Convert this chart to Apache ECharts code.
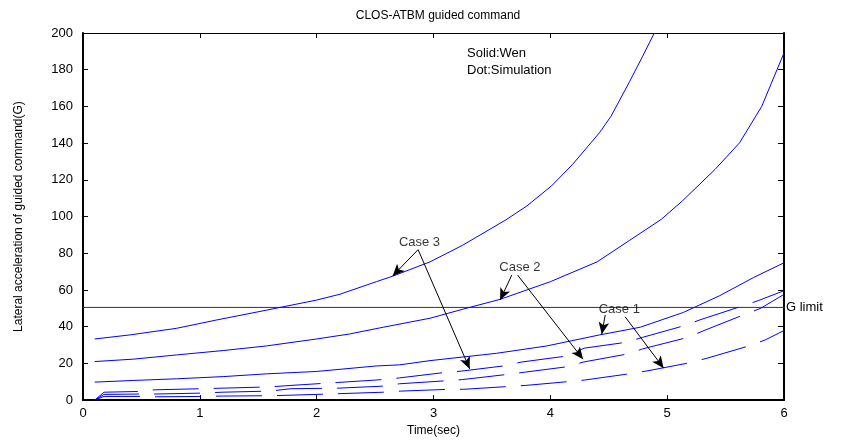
<!DOCTYPE html>
<html>
<head>
<meta charset="utf-8">
<script src="https://cdn.jsdelivr.net/npm/echarts@6/dist/echarts.min.js"></script>
<style>
html,body{margin:0;padding:0;background:#fff;}
#chart{width:860px;height:442px;}
</style>
</head>
<body>
<div id="chart"></div>
<script>
// ---- Data ----
var xTicks = [0, 1, 2, 3, 4, 5, 6];
var yTicks = [0, 20, 40, 60, 80, 100, 120, 140, 160, 180, 200];

// Solid: Wen (analytic) curves
var wenCase3 = [[0.1,33.3],[0.4,35.5],[0.8,39.1],[1.14,43.6],[1.57,49.0],[2.0,54.5],[2.2,57.7],[2.51,64.5],[2.65,67.5],[2.97,75.3],[3.25,84.4],[3.62,98.2],[3.8,105.8],[4.01,116.7],[4.19,128.4],[4.42,145.6],[4.52,154.7],[4.68,173.7],[4.79,187.3],[4.89,200]];
var wenCase2 = [[0.1,21.0],[0.43,22.3],[0.8,24.6],[1.2,27.0],[1.57,29.5],[2.0,33.3],[2.28,36.0],[2.57,39.7],[2.97,44.6],[3.25,49.5],[3.57,54.9],[4.0,64.5],[4.4,75.3],[4.68,87.1],[4.95,98.5],[5.13,108.5],[5.41,125.7],[5.62,140.2],[5.81,160.1],[5.94,180.0],[6.0,189.1]];
var wenCase1 = [[0.1,9.8],[0.43,10.7],[0.8,11.6],[1.2,12.8],[1.57,14.3],[2.0,15.6],[2.51,18.6],[2.71,19.2],[2.97,21.5],[3.54,25.5],[3.97,29.5],[4.42,35.5],[4.77,39.7],[5.14,47.8],[5.45,56.9],[5.74,66.8],[6.0,74.8]];

// Dot: Simulation curves
var simCase3 = [[0.1,0],[0.18,4.3],[0.48,4.7],[0.61,5.6],[1.01,6.2],[1.19,6.5],[1.6,7.2],[1.78,8.0],[2.18,9.6],[2.57,11.2],[2.71,12.1],[3.09,15.0],[3.24,15.8],[3.61,18.7],[3.75,20.7],[4.14,24.0],[4.29,28.3],[4.65,31.5],[4.79,34.2],[5.15,40.6],[5.28,43.7],[5.65,51.4],[5.78,54.2],[6.0,59.6]];
var simCase2 = [[0.1,0],[0.18,3.1],[0.48,3.3],[0.61,3.3],[1.01,3.8],[1.19,4.3],[1.6,4.9],[1.78,6.2],[2.18,6.5],[2.57,7.6],[2.71,8.9],[3.1,10.5],[3.25,11.2],[3.62,13.9],[3.78,15.2],[4.16,18.3],[4.28,20.7],[4.65,25.0],[4.79,27.9],[5.18,34.2],[5.3,37.5],[5.66,46.6],[5.8,50.0],[6.0,57.6]];
var simCase1 = [[0.1,0],[0.18,2.0],[0.48,2.0],[0.63,1.8],[1.01,2.0],[1.2,2.2],[1.6,2.4],[1.79,2.7],[2.19,3.5],[2.57,4.3],[2.72,4.9],[3.1,5.8],[3.26,5.9],[3.64,7.4],[3.79,8.0],[4.16,10.1],[4.29,10.9],[4.65,14.1],[4.82,15.8],[5.19,20.3],[5.34,22.8],[5.71,29.7],[5.84,32.8],[6.0,37.9]];

var gLimitValue = 50.5;
var caseNames = ['Case 3', 'Case 2', 'Case 1'];

// ---- Chart ----
var chart = echarts.init(document.getElementById('chart'), null, {renderer: 'canvas'});
var FONT = 'Liberation Sans, Arial, sans-serif';
var BLUE = '#0000ff';

function curve(name, data, dashed) {
  return {
    name: name, type: 'line', data: data, xAxisIndex: 0, yAxisIndex: 0,
    showSymbol: false, symbol: 'none', smooth: false,
    lineStyle: {color: BLUE, width: 1, type: dashed ? [46, 15] : 'solid'},
    z: 3
  };
}

var option = {
  animation: false,
  backgroundColor: '#fff',
  textStyle: {fontFamily: FONT},
  title: {
    text: 'CLOS-ATBM guided command',
    left: 433, top: 5, textAlign: 'center',
    textStyle: {fontSize: 12, fontWeight: 'normal', color: '#000', fontFamily: FONT}
  },
  grid: {left: 83, right: 76, top: 33, bottom: 41, containLabel: false},
  xAxis: [{
    type: 'value', min: xTicks[0], max: xTicks[xTicks.length - 1], interval: 1,
    name: 'Time(sec)', nameLocation: 'middle', nameGap: 23,
    nameTextStyle: {fontSize: 12, color: '#000', fontFamily: FONT},
    axisLine: {show: true, onZero: false, lineStyle: {color: '#000', width: 2}},
    axisTick: {show: true, inside: true, length: 5, lineStyle: {color: '#000'}},
    axisLabel: {color: '#000', fontSize: 13, margin: 7, fontFamily: FONT},
    splitLine: {show: false}
  }, {
    type: 'value', position: 'top', min: xTicks[0], max: xTicks[xTicks.length - 1], interval: 1,
    axisLine: {show: true, onZero: false, lineStyle: {color: '#000', width: 1}},
    axisTick: {show: true, inside: true, length: 5, lineStyle: {color: '#000'}},
    axisLabel: {show: false}, splitLine: {show: false}
  }],
  yAxis: [{
    type: 'value', min: yTicks[0], max: yTicks[yTicks.length - 1], interval: 20,
    name: 'Lateral acceleration of guided command(G)', nameLocation: 'middle', nameGap: 58,
    nameTextStyle: {fontSize: 12, color: '#000', fontFamily: FONT},
    axisLine: {show: true, onZero: false, lineStyle: {color: '#000', width: 2}},
    axisTick: {show: true, inside: true, length: 5, lineStyle: {color: '#000'}},
    axisLabel: {color: '#000', fontSize: 13, margin: 10, fontFamily: FONT},
    splitLine: {show: false}
  }, {
    type: 'value', position: 'right', min: yTicks[0], max: yTicks[yTicks.length - 1], interval: 20,
    axisLine: {show: true, onZero: false, lineStyle: {color: '#000', width: 2}},
    axisTick: {show: true, inside: true, length: 6, lineStyle: {color: '#000'}},
    axisLabel: {show: false}, splitLine: {show: false}
  }],
  graphic: [{
    type: 'text', left: 467, top: 45,
    style: {text: 'Solid:Wen\nDot:Simulation', fill: '#000', font: '13px ' + FONT, lineHeight: 17}
  }],
  series: [
    curve('Wen Case 3', wenCase3, false),
    curve('Wen Case 2', wenCase2, false),
    curve('Wen Case 1', wenCase1, false),
    curve('Simulation Case 3', simCase3, true),
    curve('Simulation Case 2', simCase2, true),
    curve('Simulation Case 1', simCase1, true),
    {
      name: 'G limit', type: 'line', clip: false, showSymbol: false, symbol: 'none',
      data: [[0, gLimitValue], [6.13, gLimitValue]],
      lineStyle: {color: '#333', width: 1},
      endLabel: {show: true, formatter: 'G limit', color: '#000', fontSize: 13, distance: 1, fontFamily: FONT},
      z: 2
    },
    {
      name: 'annotations', type: 'scatter', symbolSize: 0, clip: false,
      data: [[2.88, 86, caseNames[0]], [3.74, 72.5, caseNames[1]], [4.59, 49.6, caseNames[2]]],
      label: {
        show: true, position: [0, 0], align: 'center', verticalAlign: 'middle',
        color: '#000', fontSize: 13, fontFamily: FONT, textBorderWidth: 0,
        formatter: function (p) { return p.value[2]; }
      },
      markLine: {
        silent: true, symbol: ['none', 'arrow'], symbolSize: [8, 12],
        lineStyle: {color: '#000', width: 1, type: 'solid'},
        label: {show: false},
        data: [
          [{coord: [2.87, 82.1]}, {coord: [2.65, 67.6]}],
          [{coord: [2.87, 81.7]}, {coord: [3.31, 17.0]}],
          [{coord: [3.67, 68.1]}, {coord: [3.57, 54.5]}],
          [{coord: [3.72, 68.1]}, {coord: [4.28, 22.3]}],
          [{coord: [4.47, 46.4]}, {coord: [4.44, 35.9]}],
          [{coord: [4.64, 45.4]}, {coord: [4.97, 17.4]}]
        ]
      },
      z: 5
    }
  ]
};
chart.setOption(option);
</script>
</body>
</html>
